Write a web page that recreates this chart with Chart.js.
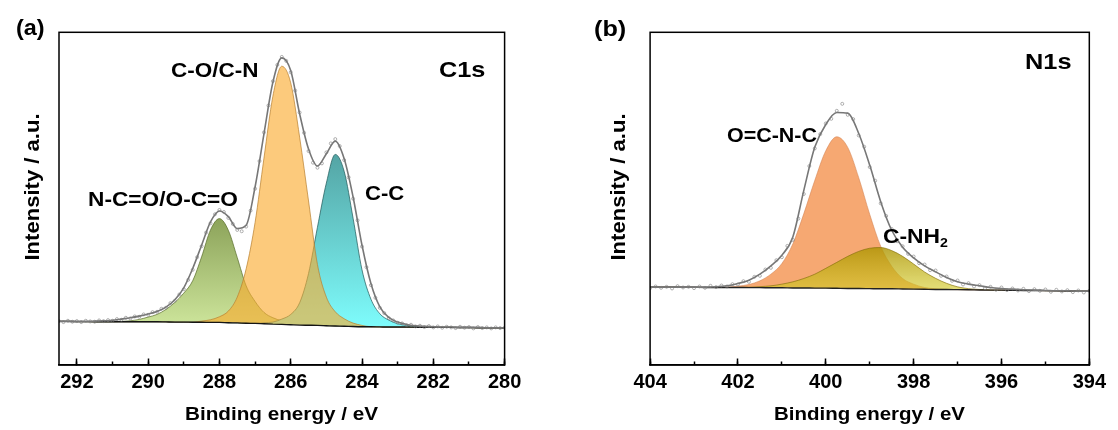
<!DOCTYPE html>
<html>
<head>
<meta charset="utf-8">
<script src="https://cdn.jsdelivr.net/npm/chart.js@4.4.1/dist/chart.umd.min.js"></script>
<style>
  html, body { margin: 0; padding: 0; background: #fff; }
  #wrap { position: relative; width: 1118px; height: 430px; overflow: hidden;
          font-family: Arial, "Liberation Sans", sans-serif; font-weight: bold; color: #000; }
  canvas { position: absolute; top: 0; }
  .lbl { position: absolute; white-space: nowrap; transform-origin: 0 0; }
  .lbl sub { font-size: 0.62em; vertical-align: -0.28em; line-height: 0; }
  .yt { position: absolute; white-space: nowrap; }
</style>
</head>
<body>
<div id="wrap">
  <canvas id="chartA" width="559" height="430" style="left:0px"></canvas>
  <canvas id="chartB" width="559" height="430" style="left:559px"></canvas>
</div>
<script>
// ---------- panel (a) C1s ----------
var energyA = [292.5, 292.25, 292, 291.75, 291.5, 291.25, 291, 290.75, 290.5, 290.25,
  290, 289.75, 289.5, 289.25, 289, 288.75, 288.5, 288.25, 288, 287.75,
  287.5, 287.25, 287, 286.75, 286.5, 286.25, 286, 285.75, 285.5, 285.25,
  285, 284.75, 284.5, 284.25, 284, 283.75, 283.5, 283.25, 283, 282.75,
  282.5, 282.25, 282, 281.75, 281.5, 281.25, 281, 280.75, 280.5, 280.25, 280];

var baselineA = [13.1, 13.1, 13.05, 13.05, 13.0, 13.0, 13.0, 13.0, 13.0, 13.0,
  13.0, 13.0, 12.95, 12.9, 12.9, 12.85, 12.85, 12.8, 12.8, 12.7,
  12.65, 12.55, 12.5, 12.4, 12.3, 12.2, 12.1, 12.0, 11.95, 11.9,
  11.8, 11.7, 11.65, 11.55, 11.5, 11.5, 11.45, 11.4, 11.4, 11.4,
  11.35, 11.3, 11.3, 11.3, 11.3, 11.25, 11.25, 11.2, 11.2, 11.2, 11.2];

// N-C=O/O-C=O component
var ncoA = [13.1, 13.1, 13.05, 13.05, 13.0, 13.0, 13.0, 13.1, 13.3, 13.7,
  14.4, 15.2, 16.7, 18.8, 21.6, 25.3, 32.5, 40.6, 44.0, 40.5,
  32.3, 23.8, 19.1, 15.8, 14.2, 13.3, 12.7, 12.3, 11.95, 11.9,
  11.8, 11.7, 11.65, 11.55, 11.5, 11.5, 11.45, 11.4, 11.4, 11.4,
  11.35, 11.3, 11.3, 11.3, 11.3, 11.25, 11.25, 11.2, 11.2, 11.2, 11.2];

// C-O/C-N component
var coA = [13.1, 13.1, 13.05, 13.05, 13.0, 13.0, 13.0, 13.0, 13.0, 13.0,
  13.0, 13.0, 12.95, 12.9, 12.9, 12.85, 13.2, 13.6, 14.5, 16.2,
  20.4, 28.9, 42.8, 62.2, 80.8, 89.8, 84.8, 68.5, 49.3, 30.2,
  20.4, 16.0, 13.9, 12.6, 11.9, 11.5, 11.45, 11.4, 11.4, 11.4,
  11.35, 11.3, 11.3, 11.3, 11.3, 11.25, 11.25, 11.2, 11.2, 11.2, 11.2];

// C-C component
var ccA = [13.1, 13.1, 13.05, 13.05, 13.0, 13.0, 13.0, 13.0, 13.0, 13.0,
  13.0, 13.0, 12.95, 12.9, 12.9, 12.85, 12.85, 12.8, 12.8, 12.7,
  12.65, 12.55, 12.5, 12.7, 12.9, 13.8, 15.2, 18.7, 27.5, 41.4,
  54.7, 63.3, 58.2, 44.1, 28.6, 19.8, 15.4, 13.5, 12.4, 11.9,
  11.6, 11.3, 11.3, 11.3, 11.3, 11.25, 11.25, 11.2, 11.2, 11.2, 11.2];

// fitted envelope
var envelopeA = [13.1, 13.1, 13.1, 13.1, 13.2, 13.3, 13.4, 13.8, 14.2, 14.7,
  15.3, 16.1, 17.4, 19.6, 23.2, 29.0, 36.0, 43.0, 46.3, 44.6,
  41.0, 42.0, 53.5, 69.5, 85.0, 92.3, 88.5, 75.5, 64.9, 59.8,
  63.5, 67.3, 62.0, 50.5, 36.0, 24.5, 17.5, 14.3, 12.9, 12.2,
  11.8, 11.6, 11.5, 11.4, 11.4, 11.3, 11.3, 11.3, 11.2, 11.2, 11.2];

// measured points
var rawEnergyA = [292.5, 292.375, 292.25, 292.125, 292, 291.875, 291.75, 291.625, 291.5,
  291.375, 291.25, 291.125, 291, 290.875, 290.75, 290.625, 290.5,
  290.375, 290.25, 290.125, 290, 289.875, 289.75, 289.625, 289.5,
  289.375, 289.25, 289.125, 289, 288.875, 288.75, 288.625, 288.5,
  288.375, 288.25, 288.125, 288, 287.875, 287.75, 287.625, 287.5,
  287.375, 287.25, 287.125, 287, 286.875, 286.75, 286.625, 286.5,
  286.375, 286.25, 286.125, 286, 285.875, 285.75, 285.625, 285.5,
  285.375, 285.25, 285.125, 285, 284.875, 284.75, 284.625, 284.5,
  284.375, 284.25, 284.125, 284, 283.875, 283.75, 283.625, 283.5,
  283.375, 283.25, 283.125, 283, 282.875, 282.75, 282.625, 282.5,
  282.375, 282.25, 282.125, 282, 281.875, 281.75, 281.625, 281.5,
  281.375, 281.25, 281.125, 281, 280.875, 280.75, 280.625, 280.5,
  280.375, 280.25, 280.125, 280];
var rawA = [13.2,
  12.9, 13.3, 13.0, 13.2, 12.9, 13.3, 13.1, 13.0,
  13.4, 13.2, 13.5, 13.3, 13.8, 13.6, 14.2, 14.0,
  14.6, 14.5, 15.2, 15.1, 15.9, 16.0, 16.9, 17.2,
  18.6, 19.3, 21.2, 22.8, 25.6, 28.6, 32.4, 35.7,
  39.8, 42.6, 45.3, 46.6, 46.0, 44.2, 42.4, 40.6,
  40.2, 41.6, 46.4, 53.0, 61.3, 69.9, 78.0, 85.3,
  90.2, 92.6, 91.4, 88.0, 82.5, 75.9, 69.8, 64.3,
  60.8, 59.3, 60.6, 63.9, 66.6, 67.9, 65.8, 61.6,
  56.4, 50.0, 43.5, 35.6, 29.4, 24.0, 20.2, 17.2,
  15.6, 14.1, 13.4, 12.7, 12.5, 12.0, 12.1, 11.6,
  11.8, 11.4, 11.7, 11.3, 11.6, 11.2, 11.5, 11.3,
  11.1, 11.5, 11.2, 11.4, 11.0, 11.4, 11.1, 11.3,
  11.0, 11.3, 11.1, 11.2];

// ---------- panel (b) N1s ----------
var energyB = [404, 403.75, 403.5, 403.25, 403, 402.75, 402.5, 402.25, 402, 401.75,
  401.5, 401.25, 401, 400.75, 400.5, 400.25, 400, 399.75, 399.5, 399.25,
  399, 398.75, 398.5, 398.25, 398, 397.75, 397.5, 397.25, 397, 396.75,
  396.5, 396.25, 396, 395.75, 395.5, 395.25, 395, 394.75, 394.5, 394.25, 394];

var baselineB = [23.4, 23.4, 23.4, 23.35, 23.35, 23.3, 23.3, 23.3, 23.3, 23.25,
  23.25, 23.2, 23.2, 23.15, 23.15, 23.1, 23.1, 23.05, 23.0, 23.0,
  22.95, 22.9, 22.9, 22.85, 22.8, 22.75, 22.7, 22.7, 22.65, 22.6,
  22.55, 22.5, 22.5, 22.45, 22.4, 22.4, 22.35, 22.3, 22.25, 22.2, 22.2];

// O=C-N-C component
var ocncB = [23.4, 23.4, 23.4, 23.35, 23.35, 23.3, 23.3, 23.4, 23.7, 24.2,
  25.3, 27.3, 30.5, 36.4, 45.5, 55.5, 64.4, 68.6, 65.4, 56.3,
  45.3, 35.7, 29.7, 26.0, 24.3, 23.3, 22.9, 22.7, 22.65, 22.6,
  22.55, 22.5, 22.5, 22.45, 22.4, 22.4, 22.35, 22.3, 22.25, 22.2, 22.2];

// C-NH2 component
var cnh2B = [23.4, 23.4, 23.4, 23.35, 23.35, 23.3, 23.3, 23.3, 23.3, 23.4,
  23.55, 23.8, 24.3, 25.0, 26.0, 27.3, 29.05, 30.85, 32.65, 34.15,
  35.1, 35.3, 34.4, 32.65, 30.35, 27.95, 26.05, 24.55, 23.5, 22.95,
  22.7, 22.55, 22.5, 22.45, 22.4, 22.4, 22.35, 22.3, 22.25, 22.2, 22.2];

var envelopeB = [23.4, 23.4, 23.4, 23.4, 23.4, 23.4, 23.5, 23.8, 24.5, 25.5,
  27.3, 29.8, 33.0, 38.5, 52.5, 65.5, 72.3, 75.9, 75.7, 69.6,
  60.1, 49.1, 40.5, 35.4, 32.2, 29.8, 28.0, 26.3, 25.0, 24.3,
  23.8, 23.3, 23.0, 22.8, 22.6, 22.5, 22.4, 22.3, 22.3, 22.2, 22.2];

var rawEnergyB = [404, 403.875, 403.75, 403.625, 403.5, 403.375, 403.25, 403.125,
  403, 402.875, 402.75, 402.625, 402.5, 402.375, 402.25, 402.125,
  402, 401.875, 401.75, 401.625, 401.5, 401.375, 401.25, 401.125,
  401, 400.875, 400.75, 400.625, 400.5, 400.375, 400.25, 400.125,
  400, 399.875, 399.75, 399.625, 399.5, 399.375, 399.25, 399.125,
  399, 398.875, 398.75, 398.625, 398.5, 398.375, 398.25, 398.125,
  398, 397.875, 397.75, 397.625, 397.5, 397.375, 397.25, 397.125,
  397, 396.875, 396.75, 396.625, 396.5, 396.375, 396.25, 396.125,
  396, 395.875, 395.75, 395.625, 395.5, 395.375, 395.25, 395.125,
  395, 394.875, 394.75, 394.625, 394.5, 394.375, 394.25, 394.125, 394];
var rawB = [23.1, 23.6, 23.2, 23.5, 23.0, 23.7, 23.3, 23.5,
  23.1, 23.6, 23.2, 23.8, 23.4, 23.9, 23.6, 24.3,
  24.2, 25.2, 25.0, 26.5, 26.8, 28.7, 29.2, 31.5,
  32.4, 35.8, 37.6, 44.0, 51.4, 59.8, 65.1, 69.4,
  72.6, 74.0, 76.4, 78.5, 75.2, 73.9, 69.0, 65.6,
  59.5, 55.4, 48.6, 44.8, 40.9, 37.2, 35.7, 33.4,
  32.6, 30.6, 30.2, 28.5, 28.4, 26.8, 26.6, 25.3,
  25.4, 24.2, 24.6, 23.6, 24.0, 23.1, 23.5, 22.6,
  23.3, 22.5, 23.0, 22.4, 22.9, 22.2, 22.8, 22.3,
  22.7, 22.0, 22.6, 22.1, 22.5, 21.9, 22.4, 21.8, 22.3];

[[energyA, baselineA], [energyA, ncoA], [energyA, coA], [energyA, ccA], [energyA, envelopeA],
 [rawEnergyA, rawA], [energyB, baselineB], [energyB, ocncB], [energyB, cnh2B],
 [energyB, envelopeB], [rawEnergyB, rawB]].forEach(function (p, i) {
  if (p[0].length !== p[1].length) throw new Error('length mismatch in pair ' + i + ': ' + p[0].length + ' vs ' + p[1].length);
});

var FONT = 'Arial, "Liberation Sans", sans-serif';
Chart.defaults.font.family = FONT;

function pts(xs, ys) {
  return xs.map(function (x, i) { return { x: x, y: ys[i] }; });
}

// vertical gradient between the top of a peak and the baseline
function vGrad(topCol, botCol, topVal, botVal) {
  return function (c) {
    var ch = c.chart;
    if (!ch.chartArea || !ch.scales.y) return botCol;
    var y = ch.scales.y;
    var g = ch.ctx.createLinearGradient(0, y.getPixelForValue(topVal), 0, y.getPixelForValue(botVal));
    g.addColorStop(0, topCol);
    g.addColorStop(1, botCol);
    return g;
  };
}

var framePlugin = {
  id: 'frame',
  afterDraw: function (chart) {
    var a = chart.chartArea, ctx = chart.ctx;
    ctx.save();
    ctx.strokeStyle = '#000';
    ctx.lineWidth = 1.5;
    ctx.strokeRect(a.left, a.top, a.right - a.left, a.bottom - a.top);
    ctx.restore();
  }
};

function axisOptions(min, max) {
  return {
    y: { display: false, min: 0, max: 100 },
    x: {
      type: 'linear', reverse: true, min: min, max: max, position: { y: 0 },
      ticks: { stepSize: 2, includeBounds: false, autoSkip: false, maxRotation: 0,
               color: '#000', padding: 12, font: { size: 20, weight: 'bold', family: FONT } },
      grid: { drawOnChartArea: false, drawTicks: true, tickLength: -7, tickColor: '#000', tickWidth: 1.5 },
      border: { display: true, color: '#000', width: 1.5 }
    },
    xm: {
      type: 'linear', reverse: true, min: min, max: max, position: { y: 0 },
      ticks: { stepSize: 1, includeBounds: false, display: false },
      grid: { drawOnChartArea: false, drawTicks: true, tickLength: -3.5, tickColor: '#000', tickWidth: 1.5 },
      border: { display: false }
    }
  };
}

function baseOptions(min, max, pad) {
  return {
    responsive: false,
    animation: false,
    events: [],
    layout: { padding: pad },
    plugins: { legend: { display: false }, tooltip: { enabled: false } },
    elements: { point: { radius: 0 }, line: { tension: 0 } },
    scales: axisOptions(min, max)
  };
}

function rawSet(xs, ys) {
  return { label: 'data', data: pts(xs, ys), showLine: false, pointRadius: 1.5, pointBorderWidth: 0.7,
           pointBorderColor: 'rgba(125,125,125,0.85)', pointBackgroundColor: 'rgba(255,255,255,0)' };
}
function lineSet(label, xs, ys, color, w) {
  return { label: label, data: pts(xs, ys), borderColor: color, borderWidth: w, fill: false,
           cubicInterpolationMode: 'monotone' };
}
function peakSet(label, xs, ys, bg, border) {
  return { label: label, data: pts(xs, ys), fill: { target: 2 }, backgroundColor: bg,
           borderColor: border, borderWidth: 0.8, cubicInterpolationMode: 'monotone' };
}

var chartA = new Chart(document.getElementById('chartA'), {
  type: 'line',
  data: {
    datasets: [
      rawSet(rawEnergyA, rawA),
      lineSet('envelope', energyA, envelopeA, '#777', 1.6),
      lineSet('background', energyA, baselineA, '#151515', 1.4),
      peakSet('C-O/C-N', energyA, coA, 'rgba(250,170,44,0.62)', 'rgba(185,130,50,0.9)'),
      peakSet('C-C', energyA, ccA,
        vGrad('rgb(84,164,164)', 'rgb(126,252,252)', Math.max.apply(null, ccA), Math.min.apply(null, baselineA)),
        'rgba(35,90,90,0.9)'),
      peakSet('N-C=O/O-C=O', energyA, ncoA,
        vGrad('rgb(140,163,90)', 'rgb(206,230,156)', Math.max.apply(null, ncoA), Math.min.apply(null, baselineA)),
        'rgba(90,110,45,0.9)')
    ]
  },
  options: baseOptions(280, 292.5, { left: 59, top: 32.3, right: 54.4, bottom: 65 }),
  plugins: [framePlugin]
});

var chartB = new Chart(document.getElementById('chartB'), {
  type: 'line',
  data: {
    datasets: [
      rawSet(rawEnergyB, rawB),
      lineSet('envelope', energyB, envelopeB, '#777', 1.6),
      lineSet('background', energyB, baselineB, '#222', 1.4),
      peakSet('C-NH2', energyB, cnh2B,
        vGrad('rgba(172,148,0,0.8)', 'rgba(212,204,40,0.62)', Math.max.apply(null, cnh2B), Math.min.apply(null, baselineB)),
        'rgba(130,110,10,0.8)'),
      peakSet('O=C-N-C', energyB, ocncB, 'rgb(246,168,114)', 'rgba(210,130,80,0.7)')
    ]
  },
  options: baseOptions(394, 404, { left: 91.1, top: 32.3, right: 21.4, bottom: 65 }),
  plugins: [framePlugin]
});

// ---------- text ----------
var wrap = document.getElementById('wrap');

function addLabel(html, left, baseline, size, width) {
  var el = document.createElement('div');
  el.className = 'lbl';
  el.innerHTML = html;
  el.style.fontSize = size + 'px';
  el.style.lineHeight = size + 'px';
  el.style.left = left + 'px';
  el.style.top = (baseline - 0.8465 * size) + 'px';
  wrap.appendChild(el);
  var w = el.getBoundingClientRect().width;
  el.style.transform = 'scaleX(' + (width / w).toFixed(3) + ')';
  return el;
}
// label anchored at a data position (left edge, baseline)
function addDataLabel(chart, offset, html, e, v, size, width) {
  var left = offset + chart.scales.x.getPixelForValue(e);
  var base = chart.scales.y.getPixelForValue(v);
  return addLabel(html, left, base, size, width);
}
function addYTitle(text, cx, cy, size, length) {
  var el = document.createElement('div');
  el.className = 'yt';
  el.textContent = text;
  el.style.fontSize = size + 'px';
  el.style.lineHeight = size + 'px';
  el.style.left = cx + 'px';
  el.style.top = cy + 'px';
  wrap.appendChild(el);
  var w = el.getBoundingClientRect().width;
  el.style.transform = 'translate(-50%,-50%) rotate(-90deg) scaleX(' + (length / w).toFixed(3) + ')';
}
function addXTitle(chart, offset, text, baseline, size, width) {
  var a = chart.chartArea;
  var cx = offset + (a.left + a.right) / 2;
  var el = addLabel(text, 0, baseline, size, width);
  el.style.left = (cx - width / 2) + 'px';
}

addLabel('(a)', 16, 35.5, 22, 28.6);
addLabel('(b)', 593.7, 37, 22, 32.2);

addDataLabel(chartA, 0, 'C1s', 281.85, 86.3, 22.5, 46.4);
addDataLabel(chartA, 0, 'C-O/C-N', 289.36, 86.6, 20.5, 87.5);
addDataLabel(chartA, 0, 'C-C', 283.92, 49.6, 21, 39.3);
addDataLabel(chartA, 0, 'N-C=O/O-C=O', 291.70, 47.9, 20, 150);

addDataLabel(chartB, 559, 'N1s', 395.46, 88.7, 21.5, 46.5);
addDataLabel(chartB, 559, 'O=C-N-C', 402.26, 67.1, 21, 90);
addDataLabel(chartB, 559, 'C-NH<sub>2</sub>', 398.70, 36.6, 21, 65);

addXTitle(chartA, 0, 'Binding energy / eV', 421, 18.5, 193);
addXTitle(chartB, 559, 'Binding energy / eV', 421, 18.5, 191);
addYTitle('Intensity / a.u.', 31, 186.5, 21, 147);
addYTitle('Intensity / a.u.', 617, 186.5, 21, 147);
</script>
</body>
</html>
